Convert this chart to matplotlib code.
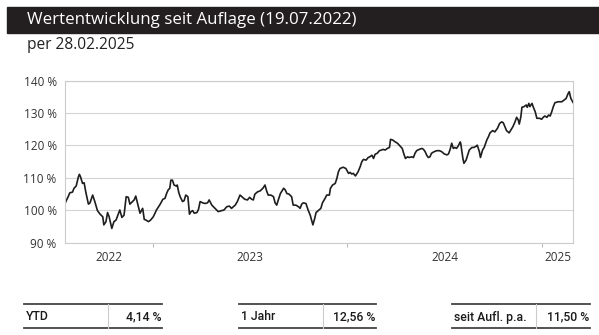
import datetime as dt
import matplotlib
matplotlib.use("Agg")
import matplotlib.pyplot as plt
import matplotlib.dates as mdates
from matplotlib.lines import Line2D
from matplotlib.patches import Rectangle

# fund performance since launch, indexed to 100 %
launch = dt.date(2022, 7, 19)
end = dt.date(2025, 2, 28)
day_offsets = [
    0, 3, 6, 9, 14, 17, 21, 25, 27, 29,
    33, 36, 39, 44, 47, 52, 56, 61, 66, 71,
    73, 77, 80, 83, 88, 92, 96, 100, 103, 107,
    111, 115, 119, 122, 127, 130, 133, 138, 141, 146,
    149, 152, 157, 161, 166, 172, 179, 184, 188, 191,
    194, 197, 199, 202, 205, 209, 211, 214, 217, 221,
    224, 227, 231, 234, 237, 240, 243, 248, 251, 254,
    259, 263, 268, 271, 276, 282, 288, 295, 299, 304,
    309, 313, 320, 324, 329, 334, 338, 343, 347, 351,
    354, 357, 362, 367, 372, 376, 379, 382, 387, 392,
    395, 398, 401, 405, 411, 414, 417, 421,
    426, 429, 434, 439, 442, 445, 448, 453, 457, 461,
    466, 469, 472, 476, 481, 484, 489, 492, 497, 499,
    503, 508, 511, 514, 517, 523, 528, 533, 536, 539,
    542, 546, 551, 555, 558, 561, 566, 570, 573, 577,
    580, 583, 587, 591, 595, 598, 602, 606, 610, 612,
    616, 620, 625, 630, 634, 637, 640, 644, 647, 652,
    655, 658, 661, 666, 671, 674, 677, 680, 683, 686,
    689, 694, 699, 704, 708, 713, 718, 721, 724, 727,
    730, 733, 736, 739, 743, 744, 748, 750, 754, 756,
    760, 765, 769, 773, 775, 779, 781, 785, 788, 793,
    796, 799, 804, 808, 813, 817, 821, 824, 827, 830,
    835, 838, 842, 846, 849, 852, 854, 857, 859, 863,
    867, 869, 872, 874, 878, 880, 884, 887, 892, 896,
    899, 902, 906, 909, 912, 915, 918, 921, 927, 934,
    938, 942, 946, 948, 951, 955,
]
values = [
    102.1, 103.2, 104.2, 105.4, 105.6, 106.8, 107.5, 110.2, 111.1, 110.4,
    108.3, 108.5, 105.7, 101.9, 102.3, 104.7, 102.7, 99.9, 98.8, 98.0,
    95.5, 96.5, 99.3, 98.0, 94.4, 96.5, 97.0, 98.8, 100.1, 97.8,
    98.5, 104.2, 104.0, 101.9, 102.7, 103.2, 104.4, 101.1, 99.1, 100.6,
    97.2, 97.0, 96.5, 97.0, 98.0, 100.1, 101.9, 103.4, 103.7, 105.2,
    106.3, 106.8, 109.3, 109.3, 107.8, 107.5, 107.8, 105.4, 104.0, 102.7,
    103.0, 104.7, 104.2, 98.8, 99.6, 99.9, 99.1, 99.3, 100.3, 102.7,
    102.3, 102.1, 102.3, 103.2, 101.6, 100.6, 99.6, 99.9, 100.1, 101.1,
    101.3, 100.6, 101.6, 102.7, 104.7, 104.0, 103.4, 103.2, 104.0, 103.4,
    103.2, 105.0, 105.7, 106.0, 106.8, 107.8, 106.0, 104.7, 104.7, 104.2,
    102.3, 101.6, 103.2, 105.2, 106.8, 106.3, 105.2, 105.0,
    104.2, 101.6, 101.6, 101.1, 100.6, 101.9, 102.3, 102.1, 100.1, 98.5,
    95.5, 97.2, 99.3, 99.9, 100.6, 102.3, 103.7, 104.7, 104.7, 106.8,
    107.8, 108.3, 109.8, 111.9, 112.9, 113.3, 112.9, 111.4, 111.7, 111.2,
    111.4, 110.6, 111.9, 113.5, 115.0, 115.7, 115.5, 116.3, 116.5, 117.0,
    116.0, 117.3, 117.6, 118.4, 118.6, 118.8, 118.6, 119.1, 119.4, 121.9,
    121.7, 121.2, 120.7, 119.8, 119.1, 117.4, 116.0, 116.5, 116.3, 116.5,
    116.3, 117.6, 118.4, 118.8, 119.1, 118.8, 118.1, 117.0, 116.3, 116.5,
    117.6, 118.1, 118.4, 118.4, 118.1, 117.4, 117.1, 117.4, 118.8, 120.7,
    119.1, 119.4, 119.1, 119.8, 121.1, 120.6, 116.0, 114.5, 115.5, 116.5,
    118.6, 119.4, 119.4, 119.8, 120.1, 118.1, 116.3, 118.6, 119.4, 121.7,
    122.7, 123.9, 124.6, 124.2, 125.3, 126.8, 127.3, 127.0, 125.8, 124.6,
    123.9, 124.7, 125.8, 127.3, 128.7, 127.9, 126.6, 128.9, 131.8, 132.0,
    132.5, 131.8, 133.0, 132.0, 133.0, 132.0, 130.4, 128.4, 128.4, 128.1,
    128.7, 129.1, 128.7, 129.4, 129.1, 130.4, 132.0, 133.2, 133.5, 133.5,
    134.0, 134.5, 136.1, 136.6, 134.5, 133.3,
]
years = [2022, 2023, 2024, 2025]
y_ticks = [90, 100, 110, 120, 130, 140]

title = "Wertentwicklung seit Auflage (19.07.2022)"
subtitle = "per 28.02.2025"
kpi_labels = ["YTD", "1 Jahr", "seit Aufl. p.a."]
kpi_values = ["4,14 %", "12,56 %", "11,50 %"]

dates = [launch + dt.timedelta(days=d) for d in day_offsets]

fig = plt.figure(figsize=(5.99, 3.35), dpi=100)
fig.patch.set_facecolor("white")

# header bar
fig.add_artist(Rectangle((7 / 599, 1 - 33 / 335), 1 - 7 / 599, 26 / 335,
                         transform=fig.transFigure, color="#231f20", zorder=0))
fig.text(27 / 599, 1 - 20.5 / 335, title, color="white", fontsize=12.2,
         family="Open Sans", va="center", ha="left")
fig.text(27 / 599, 1 - 45 / 335, subtitle, color="#222222", fontsize=11.2,
         family="Open Sans", va="center", ha="left")

ax = fig.add_axes([65 / 599, 1 - 242.7 / 335, 508 / 599, 162 / 335])
ax.plot(dates, values, color="#1e1e1e", lw=1.2, solid_joinstyle="round")

ax.set_ylim(90, 140)
ax.set_yticks(y_ticks)
ax.set_yticklabels([f"{v} %" for v in y_ticks])
ax.set_xlim(launch, end)

# year boundaries as ticks, year names centred in between
bounds = [launch] + [dt.date(y, 1, 1) for y in years[1:]] + [end]
centres = [bounds[i] + (bounds[i + 1] - bounds[i]) / 2 for i in range(len(years))]
ax.set_xticks([mdates.date2num(b) for b in bounds[1:-1]])
ax.set_xticklabels([])
ax.set_xticks([mdates.date2num(c) for c in centres], minor=True)
ax.set_xticklabels([str(y) for y in years], minor=True)
ax.tick_params(axis="x", which="major", length=3, color="#bbbbbb", width=0.8)
ax.tick_params(axis="x", which="minor", length=0, pad=6, labelsize=8.5,
               labelcolor="#333333")
ax.tick_params(axis="y", length=0, pad=6, labelsize=8.5, labelcolor="#333333")
for lab in ax.get_xticklabels(minor=True) + ax.get_yticklabels():
    lab.set_family("Open Sans")

ax.grid(axis="y", color="#d4d4d4", lw=0.8)
ax.set_axisbelow(True)
for side in ["left", "right", "top", "bottom"]:
    ax.spines[side].set_color("#cccccc")
    ax.spines[side].set_linewidth(0.8)

# key figures below the chart
groups = [(24, 108, 162), (239, 323, 376), (452, 536, 590)]
top_y = 1 - 304 / 335
bot_y = 1 - 327.5 / 335
text_y = 1 - 317 / 335
for (x0, xdiv, x1), lab, val in zip(groups, kpi_labels, kpi_values):
    fig.add_artist(Line2D([x0 / 599, x1 / 599], [top_y, top_y], color="#444444", lw=1.3))
    fig.add_artist(Line2D([x0 / 599, x1 / 599], [bot_y, bot_y], color="#444444", lw=1.3))
    fig.add_artist(Line2D([xdiv / 599, xdiv / 599], [bot_y, top_y], color="#cccccc", lw=0.8))
    fig.text((x0 + 2) / 599, text_y, lab, fontsize=8.8, color="#1a1a1a",
             family="Roboto", weight="medium", va="center", ha="left")
    fig.text((x1 - 1) / 599, text_y, val, fontsize=8.8, color="#1a1a1a",
             family="Roboto", weight="medium", va="center", ha="right")

fig.savefig("out.png", dpi=100)
